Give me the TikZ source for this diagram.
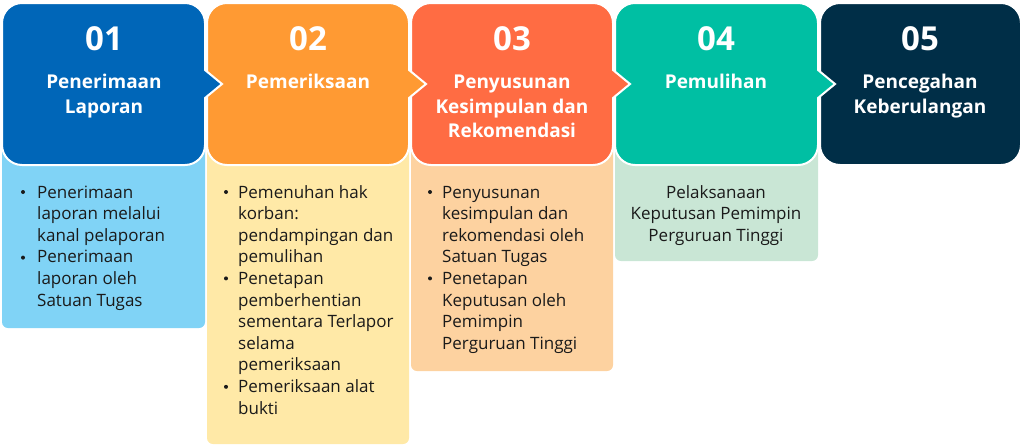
\documentclass[tikz,border=0pt]{standalone}
\usepackage{fontspec}
\setmainfont{Open Sans}
\definecolor{cA}{HTML}{0066B8}\definecolor{pA}{HTML}{80D3F6}
\definecolor{cB}{HTML}{FF9A33}\definecolor{pB}{HTML}{FFE9A7}
\definecolor{cC}{HTML}{FF6C43}\definecolor{pC}{HTML}{FDD2A0}
\definecolor{cD}{HTML}{00BFA3}\definecolor{pD}{HTML}{C9E6D5}
\definecolor{cE}{HTML}{002E47}
\definecolor{ink}{HTML}{1A1A1A}
\newcommand\hdrpath[3]{% L R arrow(1/0)
  (#1+20,3) -- (#2-20,3) arc[start angle=-90,end angle=0,radius=20]
  \ifnum#3=1 -- (#2,70) -- (#2+17,84) -- (#2,98)\fi
  -- (#2,145) arc[start angle=0,end angle=90,radius=20]
  -- (#1+20,165) arc[start angle=90,end angle=180,radius=20]
  -- (#1,23) arc[start angle=180,end angle=270,radius=20] -- cycle}
\tikzset{
  hdr/.style={draw=white,line width=2pt,line join=miter},
  num/.style={anchor=base,text=white,font=\fontsize{33}{33}\selectfont\bfseries,inner sep=0},
  ttl/.style={anchor=base,text=white,font=\fontsize{19}{19}\selectfont\bfseries,inner sep=0},
  body/.style={anchor=base west,text=ink,font=\fontsize{17}{17}\selectfont,inner sep=0},
  bodyc/.style={anchor=base,text=ink,font=\fontsize{17}{17}\selectfont,inner sep=0},
  bul/.style={fill=ink,circle,minimum size=4pt,inner sep=0}
}
\begin{document}
\begin{tikzpicture}[x=1pt,y=-1pt]
\useasboundingbox (0,0) rectangle (1024,445);
% panels
\fill[pA,rounded corners=6pt] (2,120) rectangle (205,328);
\fill[pB,rounded corners=6pt] (207,120) rectangle (409,444);
\fill[pC,rounded corners=6pt] (411,120) rectangle (613,371);
\fill[pD,rounded corners=6pt] (615,120) rectangle (818,261);
% headers, right to left
\path[hdr,fill=cE] \hdrpath{820}{1021}{0};
\path[hdr,fill=cD] \hdrpath{615}{818}{1};
\path[hdr,fill=cC] \hdrpath{411}{613}{1};
\path[hdr,fill=cB] \hdrpath{207}{409}{1};
\path[hdr,fill=cA] \hdrpath{2}{205}{1};
% numbers
\node[num] (n1) at (104,50) {01};
\node[num] (n2) at (308,50) {02};
\node[num] (n3) at (512,50) {03};
\node[num] (n4) at (716,50) {04};
\node[num] (n5) at (920,50) {05};
% titles
\node[ttl] (t1a) at (104,88) {Penerimaan};
\node[ttl] (t1b) at (104,113) {Laporan};
\node[ttl] (t2a) at (308,88) {Pemeriksaan};
\node[ttl] (t3a) at (512,88) {Penyusunan};
\node[ttl] (t3b) at (512,113) {Kesimpulan dan};
\node[ttl] (t3c) at (512,137) {Rekomendasi};
\node[ttl] (t4a) at (716,88) {Pemulihan};
\node[ttl] (t5a) at (920,88) {Pencegahan};
\node[ttl] (t5b) at (920,113) {Keberulangan};
% panel 1
\node[bul] (b1a) at (23,192) {};
\node[body] (l1a) at (37,198) {Penerimaan};
\node[body] (l1b) at (37,219.6) {laporan melalui};
\node[body] (l1c) at (37,241.2) {kanal pelaporan};
\node[bul] (b1b) at (23,257.6) {};
\node[body] (l1d) at (37,262.8) {Penerimaan};
\node[body] (l1e) at (37,284.4) {laporan oleh};
\node[body] (l1f) at (37,306) {Satuan Tugas};
% panel 2
\node[bul] (b2a) at (226,192) {};
\node[body] (l2a) at (238,198) {Pemenuhan hak};
\node[body] (l2b) at (238,219.6) {korban:};
\node[body] (l2c) at (238,241.2) {pendampingan dan};
\node[body] (l2d) at (238,262.8) {pemulihan};
\node[bul] (b2b) at (226,278.4) {};
\node[body] (l2e) at (238,284.4) {Penetapan};
\node[body] (l2f) at (238,306) {pemberhentian};
\node[body] (l2g) at (238,327.6) {sementara Terlapor};
\node[body] (l2h) at (238,349.2) {selama};
\node[body] (l2i) at (238,370.8) {pemeriksaan};
\node[bul] (b2c) at (226,386.8) {};
\node[body] (l2j) at (238,392.4) {Pemeriksaan alat};
\node[body] (l2k) at (238,414) {bukti};
% panel 3
\node[bul] (b3a) at (430,192) {};
\node[body] (l3a) at (442,198) {Penyusunan};
\node[body] (l3b) at (442,219.6) {kesimpulan dan};
\node[body] (l3c) at (442,241.2) {rekomendasi oleh};
\node[body] (l3d) at (442,262.8) {Satuan Tugas};
\node[bul] (b3b) at (430,278.4) {};
\node[body] (l3e) at (442,284.4) {Penetapan};
\node[body] (l3f) at (442,306) {Keputusan oleh};
\node[body] (l3g) at (442,327.6) {Pemimpin};
\node[body] (l3h) at (442,349.2) {Perguruan Tinggi};
% panel 4
\node[bodyc] (l4a) at (716,198) {Pelaksanaan};
\node[bodyc] (l4b) at (716,219.6) {Keputusan Pemimpin};
\node[bodyc] (l4c) at (716,241.2) {Perguruan Tinggi};
\end{tikzpicture}
\end{document}
